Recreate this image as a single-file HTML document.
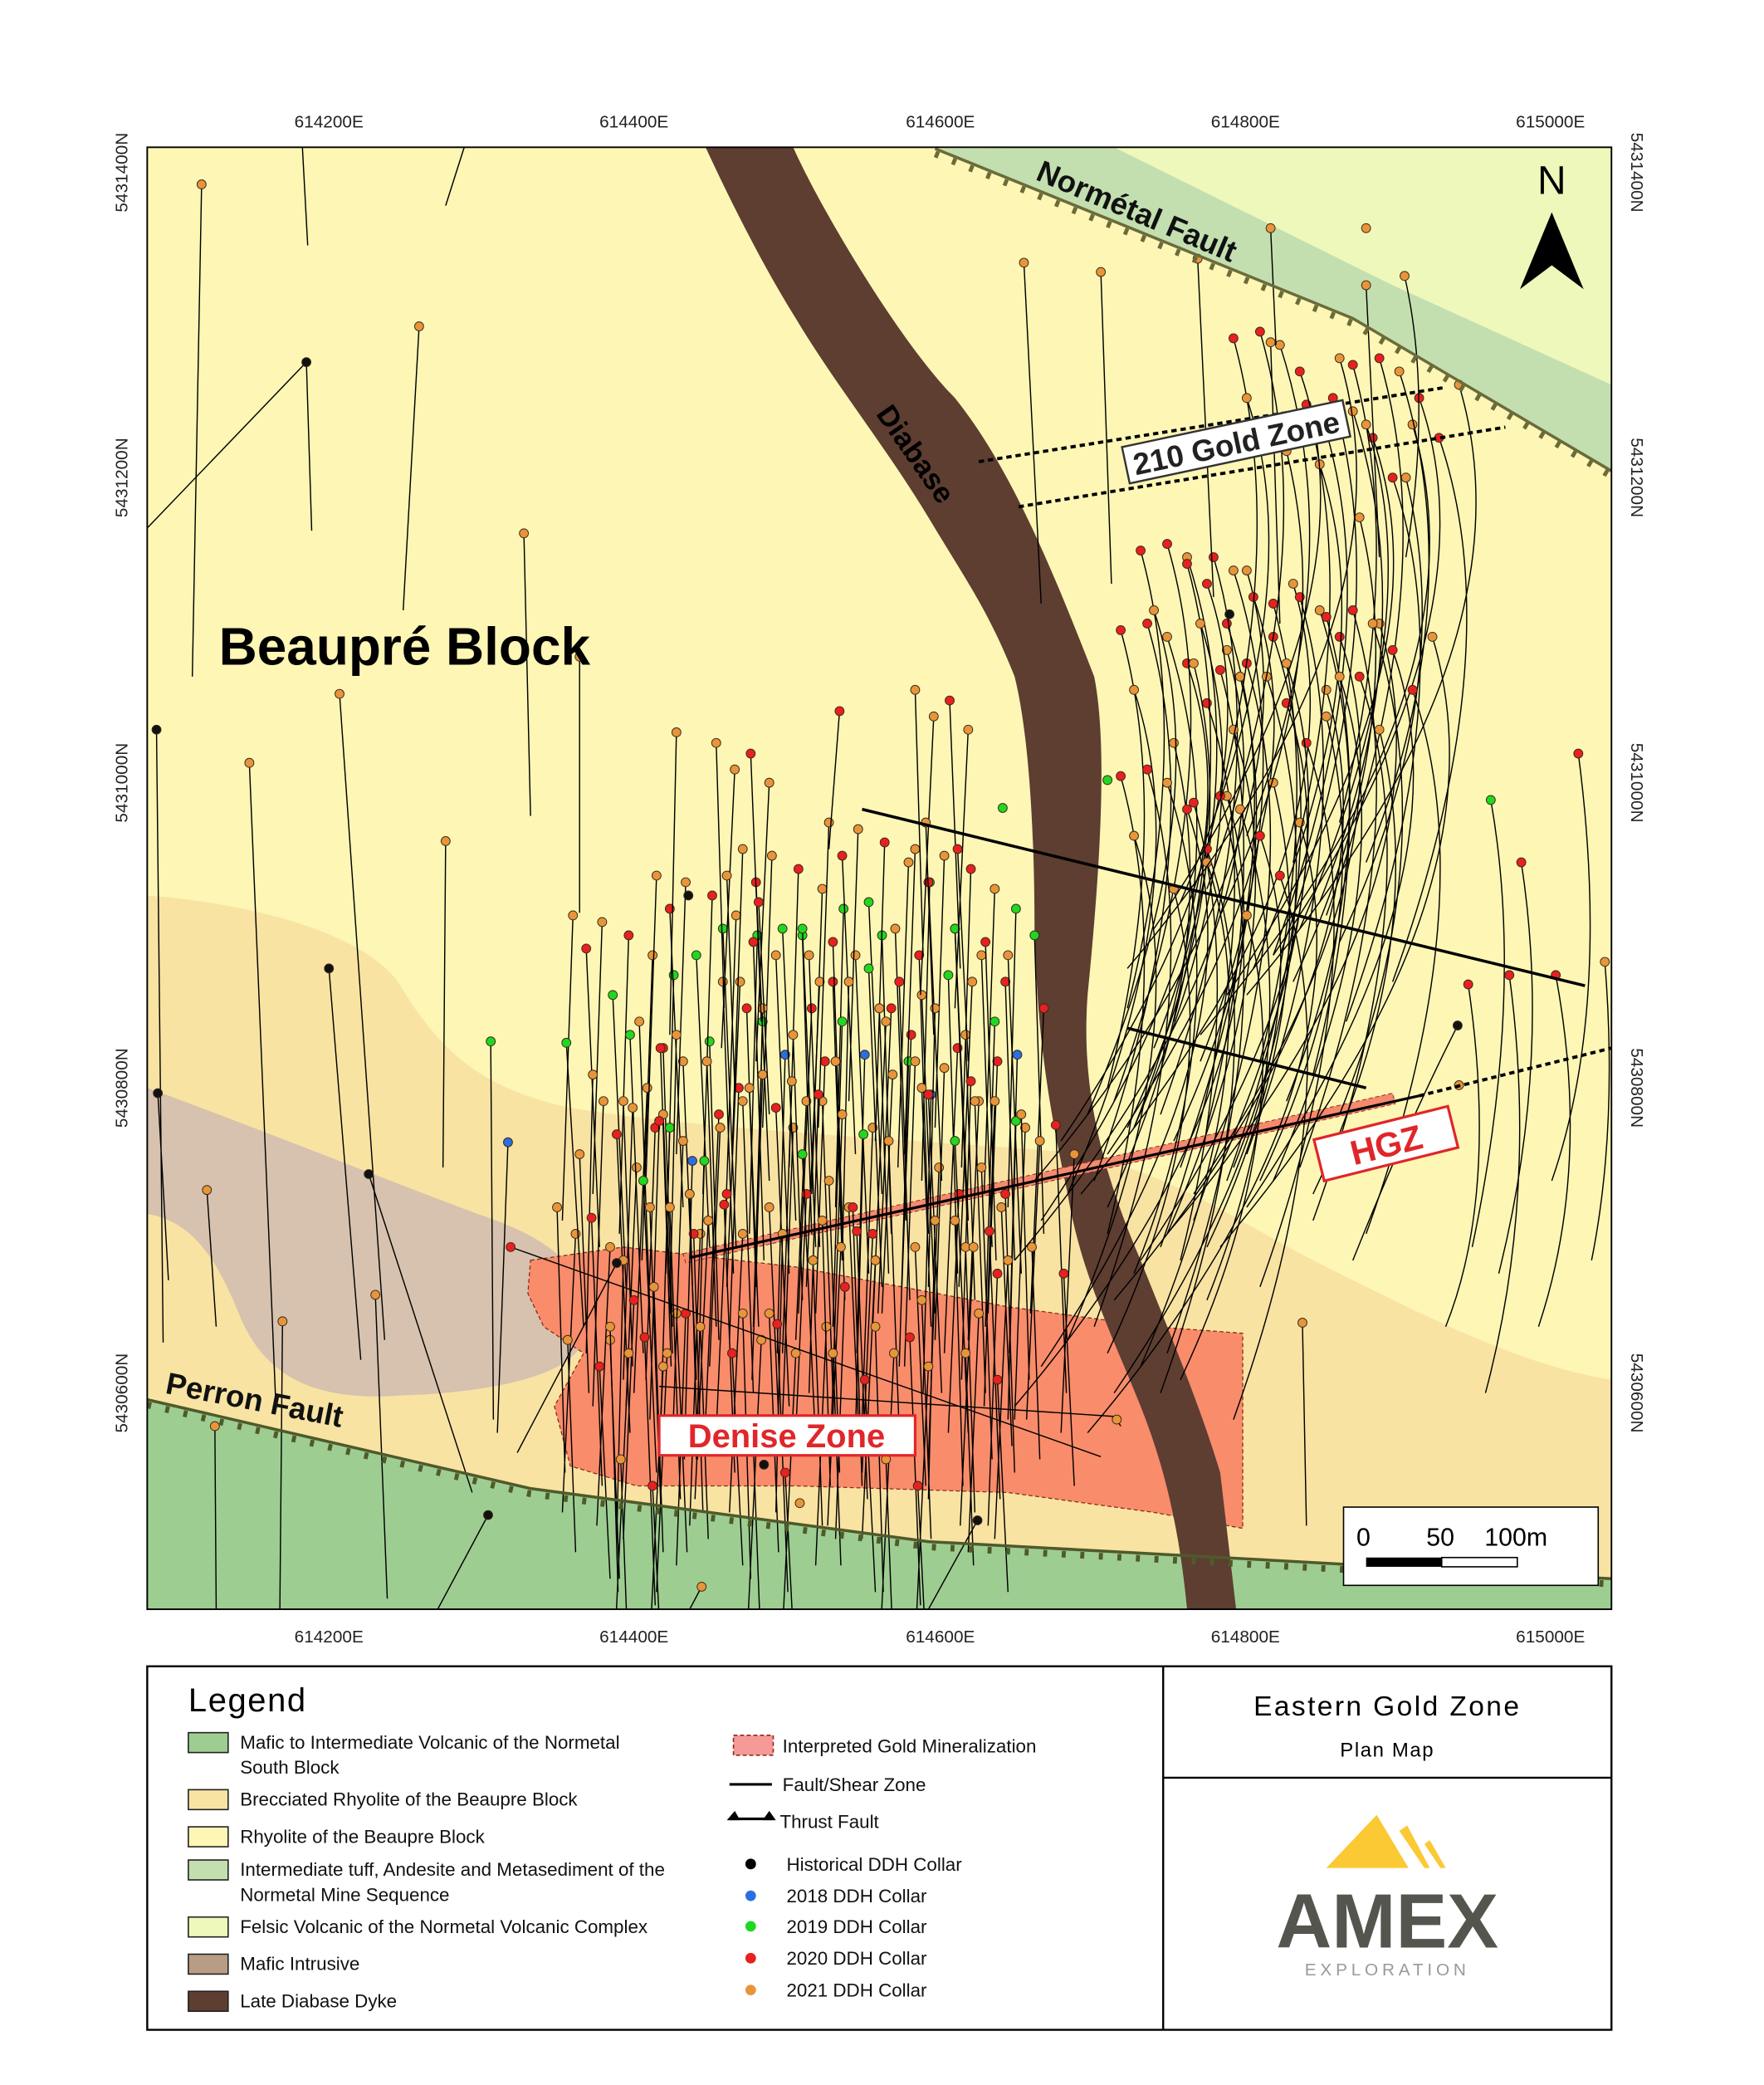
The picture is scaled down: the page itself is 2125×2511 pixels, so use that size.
<!DOCTYPE html>
<html><head><meta charset="utf-8">
<style>
html,body{margin:0;padding:0;background:#fff;}
svg{display:block;}
text{font-family:"Liberation Sans",sans-serif;}
.o{fill:#e8953a}.r{fill:#e82020}.g{fill:#1fd81f}.b{fill:#2a6fe0}.k{fill:#111}
.h circle{stroke:#3a2a1a;stroke-width:0.6}
.ln{fill:none;stroke:#000;stroke-width:0.9}
</style></head>
<body>
<svg width="2125" height="2511" viewBox="0 0 1330 1571.6" xmlns="http://www.w3.org/2000/svg" xmlns:xlink="http://www.w3.org/1999/xlink">
<defs>
<clipPath id="mc"><rect x="111" y="111" width="1104" height="1102"/></clipPath>
<g id="A" class="h">
<path class="ln" d="M0,0L-8,230 M10,25L20,250 M22,5L15,210 M30,60L40,280 M42,15L35,240 M50,80L58,300 M60,30L52,260 M68,100L75,310 M76,45L70,270 M15,120L10,330 M38,140L45,340 M62,160L55,350 M5,180L12,360 M48,190L40,370"/>
<circle cx="0" cy="0" r="3.4" class="o"/><circle cx="10" cy="25" r="3.4" class="r"/><circle cx="22" cy="5" r="3.4" class="o"/><circle cx="30" cy="60" r="3.4" class="g"/><circle cx="42" cy="15" r="3.4" class="r"/><circle cx="50" cy="80" r="3.4" class="o"/><circle cx="60" cy="30" r="3.4" class="o"/><circle cx="68" cy="100" r="3.4" class="r"/><circle cx="76" cy="45" r="3.4" class="g"/><circle cx="15" cy="120" r="3.4" class="o"/><circle cx="38" cy="140" r="3.4" class="o"/><circle cx="62" cy="160" r="3.4" class="r"/><circle cx="5" cy="180" r="3.4" class="o"/><circle cx="48" cy="190" r="3.4" class="o"/>
</g>
<g id="B" class="h">
<path class="ln" d="M5,0L15,240 M18,40L8,270 M28,10L36,250 M35,70L28,300 M45,20L55,260 M52,95L46,320 M65,5L72,230 M72,60L62,290 M20,130L28,350 M58,150L50,370 M8,200L0,380 M40,210L48,390"/>
<circle cx="5" cy="0" r="3.4" class="g"/><circle cx="18" cy="40" r="3.4" class="o"/><circle cx="28" cy="10" r="3.4" class="r"/><circle cx="35" cy="70" r="3.4" class="g"/><circle cx="45" cy="20" r="3.4" class="o"/><circle cx="52" cy="95" r="3.4" class="b"/><circle cx="65" cy="5" r="3.4" class="g"/><circle cx="72" cy="60" r="3.4" class="r"/><circle cx="20" cy="130" r="3.4" class="o"/><circle cx="58" cy="150" r="3.4" class="o"/><circle cx="8" cy="200" r="3.4" class="r"/><circle cx="40" cy="210" r="3.4" class="o"/>
</g>
<g id="D" class="h">
<path class="ln" d="M0,0L6,200 M14,20L4,230 M26,8L34,210 M40,30L30,240 M8,100L14,260 M32,120L40,280"/>
<circle cx="0" cy="0" r="3.4" class="o"/><circle cx="14" cy="20" r="3.4" class="o"/><circle cx="26" cy="8" r="3.4" class="r"/><circle cx="40" cy="30" r="3.4" class="o"/><circle cx="8" cy="100" r="3.4" class="o"/><circle cx="32" cy="120" r="3.4" class="r"/>
</g>
<g id="C" class="h">
<path class="ln" d="M0,0 Q50,170 -40,420 M15,10 Q70,180 -10,380 M30,30 Q90,200 -80,450 M-10,50 Q40,200 -60,430 M45,60 Q100,220 10,470 M20,90 Q60,250 -30,440 M60,20 Q120,220 -100,480 M-20,5 Q20,150 -30,350"/>
<circle cx="0" cy="0" r="3.4" class="r"/><circle cx="15" cy="10" r="3.4" class="o"/><circle cx="30" cy="30" r="3.4" class="r"/><circle cx="-10" cy="50" r="3.4" class="o"/><circle cx="45" cy="60" r="3.4" class="r"/><circle cx="20" cy="90" r="3.4" class="o"/><circle cx="60" cy="20" r="3.4" class="o"/><circle cx="-20" cy="5" r="3.4" class="r"/>
</g>
</defs>
<rect width="1330" height="1572" fill="#fff"/>
<g clip-path="url(#mc)">
<rect x="111" y="111" width="1104" height="1102" fill="#fdf6b5"/>
<polygon points="705,112 1215,111 1215,290 1050,215 840,111" fill="#eef8bb"/>
<polygon points="705,112 840,111 1050,215 1215,290 1215,355 1020,240" fill="#c3dfb0"/>
<path d="M111,675 C180,680 270,700 300,740 C330,790 360,820 430,835 C520,850 640,856 800,868 C880,880 930,920 1000,955 C1080,995 1150,1030 1215,1040 L1215,1213 L111,1213 Z" fill="#f8e3a3"/>
<path d="M111,820 C180,845 280,885 360,915 C420,935 450,960 440,1010 C430,1040 360,1050 300,1052 C240,1056 200,1040 180,990 C160,940 140,920 111,915 Z" fill="#d6c2ae"/>
<polygon points="111,1055 400,1122 700,1162 1215,1190 1215,1213 111,1213" fill="#9ecd92"/>
<path d="M400,950 L470,940 L600,955 L760,985 L870,1000 L937,1005 L937,1152 L870,1140 L760,1125 L600,1120 L480,1120 L430,1105 L418,1060 L440,1020 L410,1000 L398,975 Z" fill="#f98c6b" stroke="#8a2a1a" stroke-width="0.8" stroke-dasharray="3,2"/>
<path d="M532,111 L598,111 C620,160 680,260 720,300 C760,350 790,420 825,510 C835,560 830,650 820,750 C815,820 830,880 860,950 C880,1000 905,1060 920,1110 L932,1213 L895,1213 C890,1160 880,1110 860,1060 C840,1010 815,960 805,900 C790,830 782,780 780,700 C780,620 775,550 765,510 C745,460 730,440 700,390 C670,340 630,290 600,240 C575,200 550,150 532,111 Z" fill="#5d3e31"/>
<polygon points="515,945 1050,824 1052,832 517,952" fill="#f58a6e" stroke="#8a2a1a" stroke-width="0.6" stroke-dasharray="3,2"/>

<!-- drill holes -->
<use xlink:href="#A" href="#A" transform="translate(432,690)"/>
<use xlink:href="#B" href="#B" transform="translate(470,780)"/>
<use xlink:href="#A" href="#A" transform="translate(495,660)"/>
<use xlink:href="#B" href="#B" transform="translate(540,700)"/>
<use xlink:href="#A" href="#A" transform="translate(560,640)"/>
<use xlink:href="#B" href="#B" transform="translate(600,700)"/>
<use xlink:href="#A" href="#A" transform="translate(625,620)"/>
<use xlink:href="#B" href="#B" transform="translate(650,730)"/>
<use xlink:href="#A" href="#A" transform="translate(690,640)"/>
<use xlink:href="#B" href="#B" transform="translate(715,700)"/>
<use xlink:href="#A" href="#A" transform="translate(455,830)"/>
<use xlink:href="#A" href="#A" transform="translate(575,810)"/>
<use xlink:href="#A" href="#A" transform="translate(690,800)"/>
<use xlink:href="#D" href="#D" transform="translate(420,910)"/>
<use xlink:href="#D" href="#D" transform="translate(520,900)"/>
<use xlink:href="#D" href="#D" transform="translate(620,920)"/>
<use xlink:href="#D" href="#D" transform="translate(720,920)"/>
<use xlink:href="#D" href="#D" transform="translate(770,840)"/>
<use xlink:href="#D" href="#D" transform="translate(660,1000)"/>
<use xlink:href="#D" href="#D" transform="translate(560,990)"/>
<use xlink:href="#D" href="#D" transform="translate(460,1000)"/>
<use xlink:href="#D" href="#D" transform="translate(540,560)"/>
<use xlink:href="#D" href="#D" transform="translate(690,520)"/>
<use xlink:href="#C" href="#C" transform="translate(865,470)"/>
<use xlink:href="#C" href="#C" transform="translate(880,410)"/>
<use xlink:href="#C" href="#C" transform="translate(915,420)"/>
<use xlink:href="#C" href="#C" transform="translate(940,500)"/>
<use xlink:href="#C" href="#C" transform="translate(980,450)"/>
<use xlink:href="#C" href="#C" transform="translate(865,580)"/>
<use xlink:href="#C" href="#C" transform="translate(920,600)"/>
<use xlink:href="#C" href="#C" transform="translate(1005,300)"/>
<use xlink:href="#C" href="#C" transform="translate(1040,270)"/>
<use xlink:href="#C" href="#C" transform="translate(950,250)"/>
<use xlink:href="#C" href="#C" transform="translate(1020,460)"/>
<g class="h">
<path class="ln" d="M152,139 L145,510 M231,273 L235,400 M316,246 L304,460 M395,402 L400,615 M256,523 L290,1010 M188,575 L208,1060 M118,550 L123,1012 M336,634 L334,880 M248,730 L272,1025 M119,824 L127,965 M156,897 L163,1000 M278,885 L356,1125 M213,996 L211,1213 M283,976 L292,1205 M162,1075 L163,1213 M370,785 L372,1070 M427,786 L440,1000 M383,861 L375,1080 M510,552 L505,780 M437,495 L437,688 M633,536 L625,640 M772,198 L785,455 M830,205 L838,440 M368,1142 L330,1213 M737,1146 L700,1213 M529,1196 L520,1213 M982,997 L985,1150 M842,1070 L845,1075 M228,111 L232,185 M111,398 L231,273 M336,155 L350,111 M385,940 L830,1098 M465,952 L390,1095 M497,1045 L845,1068 M1190,568 Q1215,760 1170,890 M1147,650 Q1170,800 1130,960 M1124,603 Q1150,750 1110,940 M1107,742 Q1130,900 1090,1000 M1138,735 Q1160,900 1120,1050 M1173,735 Q1200,880 1160,1000 M1210,725 Q1220,850 1200,950 M1099,773 Q1060,850 1020,950 M903,195 L915,450 M958,258 L965,470 M1030,215 L1040,420 M1059,208 Q1080,300 1060,420 M958,172 L962,260"/>
<circle cx="152" cy="139" r="3.4" class="o"/><circle cx="231" cy="273" r="3.4" class="k"/><circle cx="316" cy="246" r="3.4" class="o"/><circle cx="395" cy="402" r="3.4" class="o"/><circle cx="256" cy="523" r="3.4" class="o"/><circle cx="188" cy="575" r="3.4" class="o"/><circle cx="118" cy="550" r="3.4" class="k"/><circle cx="336" cy="634" r="3.4" class="o"/><circle cx="248" cy="730" r="3.4" class="k"/><circle cx="119" cy="824" r="3.4" class="k"/><circle cx="156" cy="897" r="3.4" class="o"/><circle cx="278" cy="885" r="3.4" class="k"/><circle cx="213" cy="996" r="3.4" class="o"/><circle cx="283" cy="976" r="3.4" class="o"/><circle cx="162" cy="1075" r="3.4" class="o"/><circle cx="370" cy="785" r="3.4" class="g"/><circle cx="427" cy="786" r="3.4" class="g"/><circle cx="383" cy="861" r="3.4" class="b"/><circle cx="510" cy="552" r="3.4" class="o"/><circle cx="437" cy="495" r="3.4" class="o"/><circle cx="633" cy="536" r="3.4" class="r"/><circle cx="772" cy="198" r="3.4" class="o"/><circle cx="830" cy="205" r="3.4" class="o"/><circle cx="368" cy="1142" r="3.4" class="k"/><circle cx="737" cy="1146" r="3.4" class="k"/><circle cx="529" cy="1196" r="3.4" class="o"/><circle cx="603" cy="1133" r="3.4" class="o"/><circle cx="982" cy="997" r="3.4" class="o"/><circle cx="842" cy="1070" r="3.4" class="o"/><circle cx="385" cy="940" r="3.4" class="r"/><circle cx="465" cy="952" r="3.4" class="k"/><circle cx="576" cy="1104" r="3.4" class="k"/><circle cx="1190" cy="568" r="3.4" class="r"/><circle cx="1147" cy="650" r="3.4" class="r"/><circle cx="1124" cy="603" r="3.4" class="g"/><circle cx="1107" cy="742" r="3.4" class="r"/><circle cx="1138" cy="735" r="3.4" class="r"/><circle cx="1173" cy="735" r="3.4" class="r"/><circle cx="1210" cy="725" r="3.4" class="o"/><circle cx="1099" cy="773" r="3.4" class="k"/><circle cx="1100" cy="818" r="3.4" class="o"/><circle cx="903" cy="195" r="3.4" class="o"/><circle cx="958" cy="258" r="3.4" class="o"/><circle cx="1030" cy="215" r="3.4" class="o"/><circle cx="1059" cy="208" r="3.4" class="o"/><circle cx="958" cy="172" r="3.4" class="o"/><circle cx="1030" cy="172" r="3.4" class="o"/><circle cx="835" cy="588" r="3.4" class="g"/><circle cx="756" cy="609" r="3.4" class="g"/><circle cx="927" cy="463" r="3.4" class="k"/><circle cx="519" cy="675" r="3.4" class="k"/>
</g>

<!-- faults -->
<polyline points="705,112 1020,240 1215,355" fill="none" stroke="#6b6b3a" stroke-width="2.2"/>
<polyline points="705,116 1020,244 1215,359" fill="none" stroke="#6b6b3a" stroke-width="5" stroke-dasharray="3,11"/>
<polyline points="111,1055 400,1122 700,1162 1215,1190" fill="none" stroke="#4f5a2a" stroke-width="2.2"/>
<polyline points="111,1059 400,1126 700,1166 1215,1194" fill="none" stroke="#4f5a2a" stroke-width="5" stroke-dasharray="3,11"/>
<line x1="650" y1="610" x2="1195" y2="743" stroke="#000" stroke-width="2.2"/>
<line x1="850" y1="775" x2="1030" y2="820" stroke="#000" stroke-width="2.2"/>
<line x1="520" y1="948" x2="1070" y2="826" stroke="#000" stroke-width="2"/>
<line x1="738" y1="348" x2="1090" y2="292" stroke="#000" stroke-width="2.4" stroke-dasharray="4,3"/>
<line x1="768" y1="382" x2="1135" y2="322" stroke="#000" stroke-width="2.4" stroke-dasharray="4,3"/>
<line x1="1070" y1="826" x2="1215" y2="790" stroke="#000" stroke-width="2.4" stroke-dasharray="4,3"/>
</g>
<rect x="111" y="111" width="1104" height="1102" fill="none" stroke="#000" stroke-width="1.2"/>

<text x="165" y="501" font-size="40" font-weight="bold">Beaupré Block</text>
<text transform="translate(660,312) rotate(55)" font-size="22" font-weight="bold" fill="#000">Diabase</text>
<text transform="translate(780,135) rotate(23)" font-size="23" font-weight="bold" fill="#111">Normétal Fault</text>
<text transform="translate(124,1050) rotate(11)" font-size="23" font-weight="bold" fill="#111">Perron Fault</text>
<g transform="translate(932,333) rotate(-12)">
<rect x="-85" y="-14" width="170" height="28" fill="#fff" stroke="#333" stroke-width="1.5"/>
<text x="0" y="9" font-size="23" font-weight="bold" text-anchor="middle" fill="#222">210 Gold Zone</text>
</g>
<g transform="translate(1045,862) rotate(-14)">
<rect x="-52" y="-16" width="104" height="32" fill="#fff" stroke="#e0262a" stroke-width="2"/>
<text x="0" y="10" font-size="26" font-weight="bold" text-anchor="middle" fill="#e0262a">HGZ</text>
</g>
<rect x="497" y="1067" width="193" height="30" fill="#fff" stroke="#e0262a" stroke-width="2"/>
<text x="593" y="1091" font-size="25" font-weight="bold" text-anchor="middle" fill="#e0262a">Denise Zone</text>
<text x="1170" y="146" font-size="30" text-anchor="middle" fill="#000">N</text>
<polygon points="1170,160 1146,218 1170,200 1194,218" fill="#000"/>
<rect x="1013" y="1136" width="192" height="59" fill="#fff" stroke="#000" stroke-width="1"/>
<text x="1028" y="1165" font-size="19" text-anchor="middle">0</text>
<text x="1086" y="1165" font-size="19" text-anchor="middle">50</text>
<text x="1143" y="1165" font-size="19" text-anchor="middle">100m</text>
<rect x="1030" y="1174" width="57" height="7" fill="#000"/>
<rect x="1087" y="1174" width="57" height="7" fill="#fff" stroke="#000" stroke-width="1"/>

<g font-size="13" text-anchor="middle" fill="#222">
<text x="248" y="96" font-family="Liberation Serif">614200E</text><text x="478" y="96" font-family="Liberation Serif">614400E</text><text x="709" y="96" font-family="Liberation Serif">614600E</text><text x="939" y="96" font-family="Liberation Serif">614800E</text><text x="1169" y="96" font-family="Liberation Serif">615000E</text>
<text x="248" y="1238" font-family="Liberation Serif">614200E</text><text x="478" y="1238" font-family="Liberation Serif">614400E</text><text x="709" y="1238" font-family="Liberation Serif">614600E</text><text x="939" y="1238" font-family="Liberation Serif">614800E</text><text x="1169" y="1238" font-family="Liberation Serif">615000E</text>
<text transform="translate(96,130) rotate(-90)" font-family="Liberation Serif">5431400N</text>
<text transform="translate(96,360) rotate(-90)" font-family="Liberation Serif">5431200N</text>
<text transform="translate(96,590) rotate(-90)" font-family="Liberation Serif">5431000N</text>
<text transform="translate(96,820) rotate(-90)" font-family="Liberation Serif">5430800N</text>
<text transform="translate(96,1050) rotate(-90)" font-family="Liberation Serif">5430600N</text>
<text transform="translate(1230,130) rotate(90)" font-family="Liberation Serif">5431400N</text>
<text transform="translate(1230,360) rotate(90)" font-family="Liberation Serif">5431200N</text>
<text transform="translate(1230,590) rotate(90)" font-family="Liberation Serif">5431000N</text>
<text transform="translate(1230,820) rotate(90)" font-family="Liberation Serif">5430800N</text>
<text transform="translate(1230,1050) rotate(90)" font-family="Liberation Serif">5430600N</text>
</g>

<rect x="111" y="1256" width="1104" height="274" fill="#fff" stroke="#000" stroke-width="1.5"/>
<line x1="877" y1="1256" x2="877" y2="1530" stroke="#000" stroke-width="1.5"/>
<line x1="877" y1="1340" x2="1215" y2="1340" stroke="#000" stroke-width="1.5"/>
<text x="142" y="1290" font-size="25" letter-spacing="1">Legend</text>
<g font-size="14" fill="#111">
<rect x="142" y="1306" width="30" height="15" fill="#9ecd92" stroke="#222"/><text x="181" y="1318">Mafic to Intermediate Volcanic of the Normetal</text><text x="181" y="1337">South Block</text>
<rect x="142" y="1349" width="30" height="15" fill="#f8e3a3" stroke="#222"/><text x="181" y="1361">Brecciated Rhyolite of the Beaupre Block</text>
<rect x="142" y="1377" width="30" height="15" fill="#fdf6b5" stroke="#222"/><text x="181" y="1389">Rhyolite of the Beaupre Block</text>
<rect x="142" y="1402" width="30" height="15" fill="#c3dfb0" stroke="#222"/><text x="181" y="1414">Intermediate tuff, Andesite and Metasediment of the</text><text x="181" y="1433">Normetal Mine Sequence</text>
<rect x="142" y="1445" width="30" height="15" fill="#eef8bb" stroke="#222"/><text x="181" y="1457">Felsic Volcanic of the Normetal Volcanic Complex</text>
<rect x="142" y="1473" width="30" height="15" fill="#b89d86" stroke="#222"/><text x="181" y="1485">Mafic Intrusive</text>
<rect x="142" y="1501" width="30" height="15" fill="#5d3e31" stroke="#222"/><text x="181" y="1513">Late Diabase Dyke</text>
<rect x="553" y="1308" width="30" height="15" fill="#f59a96" stroke="#8a2a1a" stroke-dasharray="3,2"/><text x="590" y="1321">Interpreted Gold Mineralization</text>
<line x1="550" y1="1345" x2="582" y2="1345" stroke="#000" stroke-width="2"/><text x="590" y="1350">Fault/Shear Zone</text>
<line x1="550" y1="1371" x2="582" y2="1371" stroke="#000" stroke-width="2"/><polygon points="548,1372 554,1365 558,1372" fill="#000"/><polygon points="575,1372 580,1365 585,1372" fill="#000"/><text x="588" y="1378">Thrust Fault</text>
<circle cx="566" cy="1405" r="4" fill="#000"/><text x="593" y="1410">Historical DDH Collar</text>
<circle cx="566" cy="1429" r="4" fill="#2a6fe0"/><text x="593" y="1434">2018 DDH Collar</text>
<circle cx="566" cy="1452" r="4" fill="#1fd81f"/><text x="593" y="1457">2019 DDH Collar</text>
<circle cx="566" cy="1476" r="4" fill="#e82020"/><text x="593" y="1481">2020 DDH Collar</text>
<circle cx="566" cy="1500" r="4" fill="#e8953a"/><text x="593" y="1505">2021 DDH Collar</text>
</g>
<text x="1046" y="1293" font-size="21" text-anchor="middle" letter-spacing="1.5">Eastern Gold Zone</text>
<text x="1046" y="1324" font-size="15" text-anchor="middle" letter-spacing="1">Plan Map</text>
<polygon points="1000,1408 1038,1368 1062,1408" fill="#fbc934"/>
<polygon points="1055,1380 1061,1376 1078,1408 1074,1408" fill="#fbc934"/>
<polygon points="1074,1390 1078,1387 1090,1408 1086,1408" fill="#fbc934"/>
<text x="1046" y="1468" font-size="58" font-weight="bold" text-anchor="middle" fill="#555550">AMEX</text>
<text x="1046" y="1489" font-size="13" text-anchor="middle" fill="#999" letter-spacing="3">EXPLORATION</text>
</svg>
</body></html>
